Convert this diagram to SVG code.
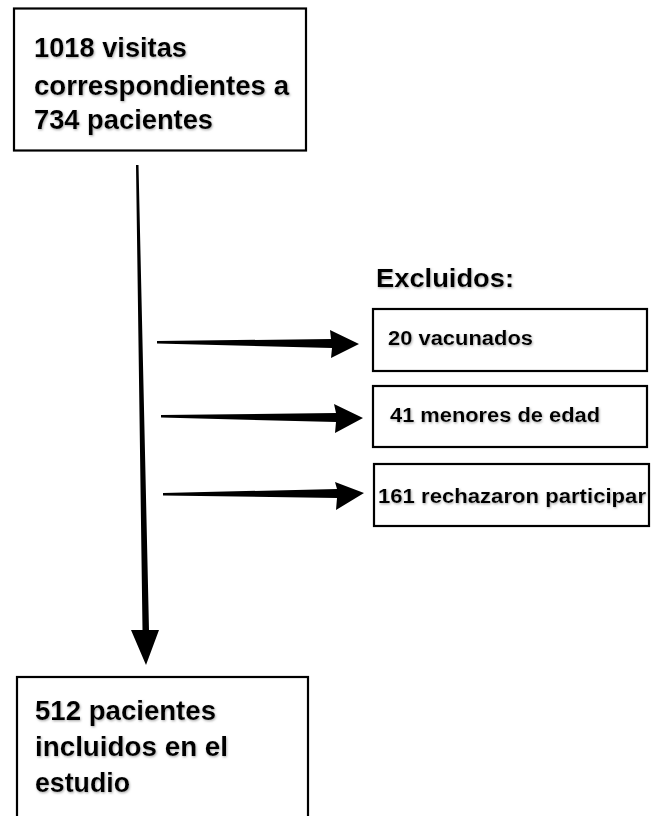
<svg xmlns="http://www.w3.org/2000/svg" width="656" height="816" viewBox="0 0 656 816">
<style>
.box{fill:#fff;stroke:#000;stroke-width:2.2}
.big{font-family:"Liberation Sans",Arial,sans-serif;font-weight:bold;font-size:27px;fill:#000}
.sm{font-family:"Liberation Sans",Arial,sans-serif;font-weight:bold;font-size:20px;fill:#000}
.hd{font-family:"Liberation Sans",Arial,sans-serif;font-weight:bold;font-size:26px;fill:#000}
.arr{fill:#000}
</style>
<defs>
<filter id="sh" x="-5%" y="-20%" width="110%" height="140%">
<feDropShadow dx="0.8" dy="1.2" stdDeviation="0.8" flood-color="#888" flood-opacity="0.7"/>
</filter>
</defs>
<rect width="656" height="816" fill="#fff"/>
<g id="connectors">
<polygon class="arr" points="136,165 138.5,165 149,630 159,630 146,665 131,630 142.5,630"/>
<polygon class="arr" points="157,341 157,343.5 332,348 331,358 359,344 330,330 331,339"/>
<polygon class="arr" points="161,415 161,417.5 336,422 335,433 363,418 334,404 336,413"/>
<polygon class="arr" points="163,493 163,495.5 337,498 336,510 364,493 335,482 337,489"/>
</g>
<g id="top">
<rect class="box" x="14" y="8.5" width="292" height="142"/>
<g filter="url(#sh)">
<text class="big" x="34" y="57" textLength="153" lengthAdjust="spacingAndGlyphs">1018 visitas</text>
<text class="big" x="34" y="95" textLength="255" lengthAdjust="spacingAndGlyphs">correspondientes a</text>
<text class="big" x="34" y="129" textLength="179" lengthAdjust="spacingAndGlyphs">734 pacientes</text>
</g>
</g>
<g id="excluidos-label" filter="url(#sh)">
<text class="hd" x="376" y="287" textLength="138" lengthAdjust="spacingAndGlyphs">Excluidos:</text>
</g>
<g id="ex1">
<rect class="box" x="373" y="309" width="274" height="62"/>
<text class="sm" x="388" y="345" filter="url(#sh)" textLength="145" lengthAdjust="spacingAndGlyphs">20 vacunados</text>
</g>
<g id="ex2">
<rect class="box" x="373" y="386" width="274" height="61"/>
<text class="sm" x="390" y="422" filter="url(#sh)" textLength="210" lengthAdjust="spacingAndGlyphs">41 menores de edad</text>
</g>
<g id="ex3">
<rect class="box" x="374" y="464" width="275" height="62"/>
<text class="sm" x="378" y="503" filter="url(#sh)" textLength="268" lengthAdjust="spacingAndGlyphs">161 rechazaron participar</text>
</g>
<g id="bottom">
<rect class="box" x="17" y="677" width="291" height="150"/>
<g filter="url(#sh)">
<text class="big" x="35" y="720" textLength="181" lengthAdjust="spacingAndGlyphs">512 pacientes</text>
<text class="big" x="35" y="756" textLength="193" lengthAdjust="spacingAndGlyphs">incluidos en el</text>
<text class="big" x="35" y="792" textLength="95" lengthAdjust="spacingAndGlyphs">estudio</text>
</g>
</g>
</svg>
